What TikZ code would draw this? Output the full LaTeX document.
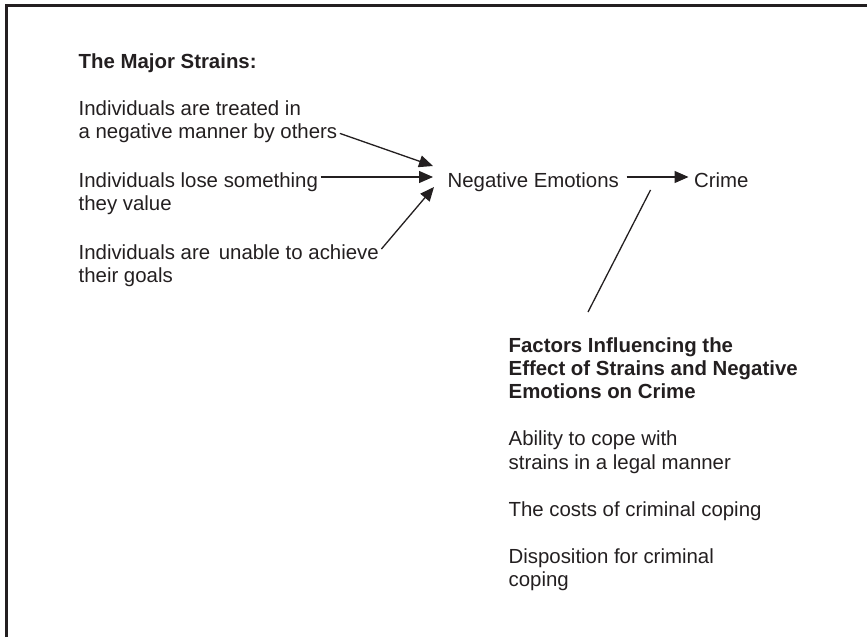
\documentclass[tikz,border=0pt]{standalone}
\usepackage{fontspec}
\setmainfont{Liberation Sans}
\usetikzlibrary{arrows.meta,positioning,calc}
\definecolor{ink}{RGB}{35,31,32}
\newcommand{\strainfont}{\fontsize{20.4}{23.4}\selectfont}

\begin{document}
\begin{tikzpicture}[
    x=1pt,y=-1pt,
    ->,>={Triangle[length=14pt,width=12pt]},
    line width=1.3pt,color=ink,
    every node/.style={inner sep=0pt,align=left,anchor=base west,font=\strainfont},
    head/.style={font=\strainfont\bfseries}
  ]
  \useasboundingbox (0,0) rectangle (867,637);
  % frame, open at right and bottom
  \draw[-,line width=2.4pt] (6.5,637) -- (6.5,5.5) -- (867,5.5);

  % strains (base = last line)
  \node[head] (title) at (78,68) {The Major Strains:};
  \node (s1) at (78,138.4) {Individuals are treated in\\a negative manner by others};
  \node (s2) at ([yshift=-72pt]s1.base west) {Individuals lose something\\they value};
  \node (s3) at ([yshift=-72pt]s2.base west) {Individuals are\hspace{3pt} unable to achieve\\their goals};

  \node (emo) at (447,187) {Negative Emotions};
  \node (crime) at ([xshift=74pt]emo.base east) {Crime};

  % conditioning factors
  \node[head] (fac) at (508,398.8) {Factors Influencing the\\Effect of Strains and Negative\\Emotions on Crime};
  \node (cope) at ([yshift=-70.4pt]fac.base west) {Ability to cope with\\strains in a legal manner};
  \node (cost) at ([yshift=-47pt]cope.base west) {The costs of criminal coping};
  \node (disp) at ([yshift=-70.4pt]cost.base west) {Disposition for criminal\\coping};

  \draw ([xshift=2pt,yshift=5pt]s1.base east) -- ([xshift=-14pt,yshift=21pt]emo.base west);
  \draw ([xshift=2pt,yshift=33.4pt]s2.base east) -- ([xshift=-14pt,yshift=10pt]emo.base west);
  \draw ([xshift=2pt,yshift=33.4pt]s3.base east) -- ([xshift=-13pt]emo.base west);
  \draw ([xshift=7pt,yshift=10pt]emo.base east) -- ([xshift=-5pt,yshift=10pt]crime.base west);
  \draw[-] ([xshift=80pt,yshift=86.8pt]fac.base west) -- ([xshift=31pt,yshift=-3pt]emo.base east);
\end{tikzpicture}
\end{document}
